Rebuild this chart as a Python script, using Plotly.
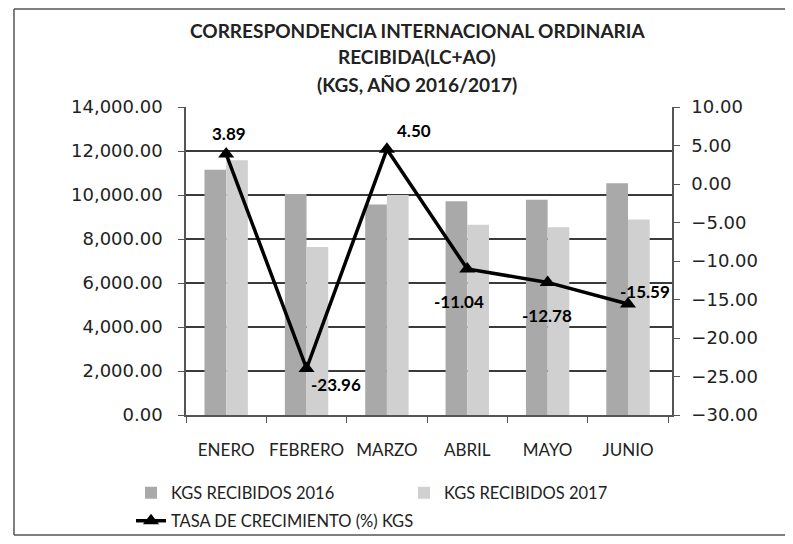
import plotly.graph_objects as go

months = ["ENERO", "FEBRERO", "MARZO", "ABRIL", "MAYO", "JUNIO"]
kgs_2016 = [11150, 10050, 9570, 9720, 9780, 10530]
kgs_2017 = [11580, 7640, 10000, 8650, 8530, 8890]
growth = [3.89, -23.96, 4.50, -11.04, -12.78, -15.59]
growth_labels = ["3.89", "-23.96", "4.50", "-11.04", "-12.78", "-15.59"]
title_lines = ["CORRESPONDENCIA INTERNACIONAL ORDINARIA", "RECIBIDA(LC+AO)", "(KGS, AÑO 2016/2017)"]

# label offsets in px (style only)
label_dx = [3, 29, 27, -8, -1, 17]
label_dy = [21, -16, 19, -32, -33, 13]

# page has 8px body margin -> figure 777x528 fills the 793x544 window
W, H = 777, 528
L, R, T, B = 178, 113, 99, 121
pw = W - L - R
ph = H - T - B


def px_x(fx):
    return (fx - L) / pw


def px_y(fy):
    return (H - B - fy) / ph


FONT = "Lato"
TICKFONT = "DejaVu Sans"

fig = go.Figure()
fig.add_trace(go.Bar(x=months, y=kgs_2016, name="KGS RECIBIDOS 2016",
                     marker=dict(color="#a9a9a9", line=dict(width=0))))
fig.add_trace(go.Bar(x=months, y=kgs_2017, name="KGS RECIBIDOS 2017",
                     marker=dict(color="#d0d0d0", line=dict(width=0))))
fig.add_trace(go.Scatter(x=months, y=growth, name="TASA DE CRECIMIENTO (%) KGS",
                         yaxis="y2", mode="lines+markers", legend="legend2",
                         line=dict(color="black", width=3.5),
                         marker=dict(symbol="triangle-up", size=14, color="black"),
                         cliponaxis=False))

for m, g, t, dx, dy in zip(months, growth, growth_labels, label_dx, label_dy):
    fig.add_annotation(x=m, y=g, xref="x", yref="y2", text=t, showarrow=False,
                       xshift=dx, yshift=dy,
                       font=dict(family=FONT, size=17, color="black", weight="bold"))

for i, line in enumerate(title_lines):
    fig.add_annotation(x=px_x(409), y=px_y(22 + 27 * i), xref="paper", yref="paper",
                       text=line, showarrow=False, xanchor="center", yanchor="middle",
                       font=dict(family=FONT, size=19, color="#222", weight="bold"))

fig.update_layout(
    width=W, height=H,
    margin=dict(l=L, r=R, t=T, b=B, autoexpand=False),
    paper_bgcolor="white", plot_bgcolor="white",
    font=dict(family=FONT, size=16, color="#222"),
    barmode="group", bargap=0.46, bargroupgap=0,
    xaxis=dict(showline=True, linecolor="#555", linewidth=1.5, automargin=False,
               ticks="outside", tickson="boundaries", ticklen=6, tickcolor="#555",
               tickangle=0,
               tickfont=dict(family=FONT, size=17), showgrid=False, ticklabelstandoff=19),
    yaxis=dict(range=[0, 14000], dtick=2000, tickformat=",.2f", automargin=False,
               showline=True, linecolor="#555", linewidth=1.5,
               ticks="outside", ticklen=6, tickcolor="#555",
               showgrid=True, gridcolor="#3a3a3a", gridwidth=1.5,
               zeroline=False, tickfont=dict(family=TICKFONT, size=18), ticklabelstandoff=12),
    yaxis2=dict(range=[-30, 10], dtick=5, tickformat=".2f", overlaying="y", side="right",
                automargin=False,
                showline=True, linecolor="#555", linewidth=1.5,
                ticks="outside", ticklen=6, tickcolor="#555",
                showgrid=False, zeroline=False, tickfont=dict(family=TICKFONT, size=18),
                ticklabelstandoff=8),
    legend=dict(orientation="h", x=px_x(123), xanchor="left",
                y=px_y(485), yanchor="middle",
                entrywidth=228, font=dict(family=FONT, size=16.5), bgcolor="rgba(0,0,0,0)"),
    legend2=dict(orientation="h", x=px_x(123), xanchor="left",
                 y=px_y(513), yanchor="middle",
                 font=dict(family=FONT, size=16.5), bgcolor="rgba(0,0,0,0)"),
    showlegend=True,
)

# outer chart border (left, top, bottom edges visible in the reference)
border = dict(color="#555", width=1.5)
fig.add_shape(type="line", xref="paper", yref="paper",
              x0=px_x(6), x1=px_x(6), y0=px_y(527), y1=px_y(1), line=border, layer="below")
fig.add_shape(type="line", xref="paper", yref="paper",
              x0=px_x(6), x1=px_x(777), y0=px_y(1), y1=px_y(1), line=border, layer="below")
fig.add_shape(type="line", xref="paper", yref="paper",
              x0=px_x(6), x1=px_x(777), y0=px_y(527), y1=px_y(527), line=border, layer="below")

fig.write_html("out.html")
